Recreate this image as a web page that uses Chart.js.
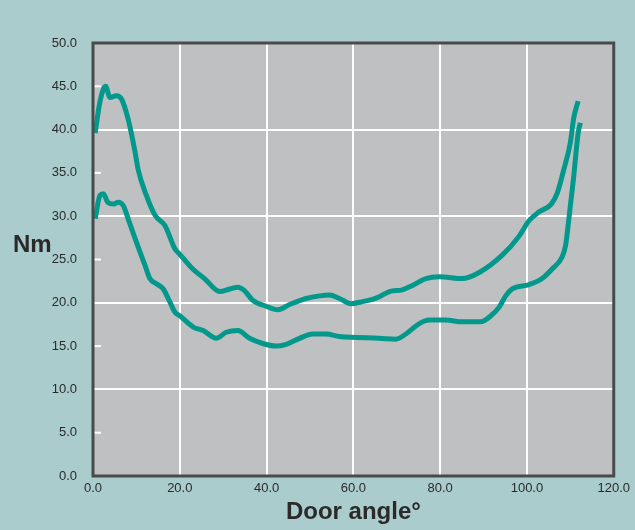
<!DOCTYPE html>
<html>
<head>
<meta charset="utf-8">
<script src="https://cdn.jsdelivr.net/npm/chart.js@4"></script>
<style>
  html, body { margin: 0; padding: 0; background: #aacccc; }
  canvas { display: block; }
</style>
</head>
<body>
<canvas id="myChart" width="635" height="530"></canvas>
<script>
// door angle (deg) vs torque (Nm)
var upperX = [0.5, 1.6, 2.9, 3.9, 5.4, 6.6, 8.1, 9.7, 10.4, 12.3, 14.3, 16.6, 18.9, 20, 23, 25.7, 29.2, 31.5, 33.4, 34.9, 36.8, 39.9, 42.6, 45.3, 49.1, 52.2, 54.5, 56.8, 59.5, 61.8, 64.4, 66, 68.3, 71.3, 73.6, 76.7, 79.8, 85.1, 89, 94.3, 98.2, 100.5, 102.8, 105.6, 107, 108.5, 110, 110.8, 111.8]
var upperY = [39.6, 43.2, 45.0, 43.7, 43.9, 43.5, 41.2, 37.4, 35.4, 32.4, 30.1, 28.9, 26.2, 25.6, 23.9, 22.8, 21.3, 21.6, 21.8, 21.4, 20.3, 19.6, 19.2, 19.8, 20.5, 20.8, 20.9, 20.5, 19.9, 20.1, 20.4, 20.7, 21.3, 21.5, 22.0, 22.8, 23.0, 22.8, 23.5, 25.5, 27.7, 29.5, 30.5, 31.4, 32.7, 35.4, 38.5, 41.4, 43.3]

var lowerX = [0.5, 1.6, 2.4, 3.4, 4.7, 5.8, 7.0, 8.1, 10, 12, 13.1, 14.6, 16.2, 17.7, 18.9, 20, 23.1, 25.4, 28.4, 30.7, 33.4, 36.1, 39.1, 42.2, 44.5, 47.6, 50.6, 53.7, 56.8, 60.6, 66, 69.8, 72.1, 75.2, 77.5, 81.3, 85.1, 89.3, 91.7, 93.6, 95.1, 96.6, 100.5, 103.5, 105.8, 108.1, 108.9, 109.3, 110, 110.8, 111.3, 111.8, 112.3]
var lowerY = [29.7, 32.4, 32.6, 31.6, 31.4, 31.6, 31.2, 29.7, 27.0, 24.3, 22.8, 22.2, 21.6, 20.1, 18.9, 18.5, 17.2, 16.8, 15.9, 16.6, 16.8, 15.9, 15.3, 15.0, 15.2, 15.9, 16.4, 16.4, 16.1, 16.0, 15.9, 15.8, 16.4, 17.6, 18.0, 18.0, 17.8, 17.8, 18.5, 19.5, 20.8, 21.6, 22.1, 22.8, 23.9, 25.3, 26.6, 28.1, 31.2, 34.7, 37.3, 39.6, 40.8]

var yMinorTicks = [5, 15, 25, 35, 45]

function toPoints(xs, ys) {
  var pts = []
  for (var i = 0; i < xs.length; i++) pts.push({x: xs[i], y: ys[i]})
  return pts
}

const plotBg = {
  id: 'plotBg',
  beforeDraw(chart) {
    const c = chart.ctx, a = chart.chartArea
    c.save()
    c.fillStyle = '#aacccc'
    c.fillRect(0, 0, chart.width, chart.height)
    c.fillStyle = '#bfc0c2'
    c.fillRect(a.left, a.top, a.right - a.left, a.bottom - a.top)
    c.restore()
  },
  beforeDatasetsDraw(chart) {
    // short white ticks inside the plot at the odd fives
    const c = chart.ctx, a = chart.chartArea, y = chart.scales.y
    c.save()
    c.strokeStyle = '#ffffff'
    c.lineWidth = 2
    yMinorTicks.forEach(v => {
      const py = y.getPixelForValue(v)
      c.beginPath()
      c.moveTo(a.left, py)
      c.lineTo(a.left + 8, py)
      c.stroke()
    })
    c.restore()
  },
  afterDraw(chart) {
    const c = chart.ctx, a = chart.chartArea
    c.save()
    c.strokeStyle = '#4a4a4a'
    c.lineWidth = 3
    c.strokeRect(a.left, a.top, a.right - a.left, a.bottom - a.top)
    c.fillStyle = '#2a2a2a'
    c.font = 'bold 24px "Liberation Sans", Arial, sans-serif'
    c.textAlign = 'left'
    c.textBaseline = 'alphabetic'
    c.fillText('Nm', 13, 252)
    c.restore()
  }
}

const ctx = document.getElementById('myChart')
const chart1 = new Chart(ctx, {
  type: 'scatter',
  data: {
    datasets: [{
      data: toPoints(upperX, upperY),
      borderColor: '#03988c',
      borderWidth: 5,
      showLine: true,
      pointRadius: 0,
      cubicInterpolationMode: 'monotone',
      fill: false
    }, {
      data: toPoints(lowerX, lowerY),
      borderColor: '#03988c',
      borderWidth: 5,
      showLine: true,
      pointRadius: 0,
      cubicInterpolationMode: 'monotone',
      fill: false
    }]
  },
  options: {
    responsive: false,
    animation: false,
    layout: {padding: {top: 43, right: 21, left: 0, bottom: 0}},
    plugins: {legend: {display: false}, tooltip: {enabled: false}},
    scales: {
      x: {
        type: 'linear',
        min: 0,
        max: 120,
        afterFit(s) { s.height = 54 },
        border: {display: false},
        grid: {
          drawTicks: false,
          lineWidth: 2,
          color: c => (c.tick && c.tick.value > 0 && c.tick.value < 120) ? '#ffffff' : 'rgba(0,0,0,0)'
        },
        ticks: {
          stepSize: 20,
          padding: 5,
          color: '#2a2a2a',
          font: {family: '"Liberation Sans", Arial, sans-serif', size: 13},
          callback: v => v.toFixed(1)
        },
        title: {
          display: true,
          text: 'Door angle°',
          color: '#2a2a2a',
          padding: {top: 0, bottom: 3},
          font: {family: '"Liberation Sans", Arial, sans-serif', size: 24, weight: 'bold'}
        }
      },
      y: {
        min: 0,
        max: 50,
        afterFit(s) { s.width = 93 },
        border: {display: false},
        grid: {
          drawTicks: false,
          lineWidth: 2,
          color: c => (c.tick && c.tick.value % 10 === 0 && c.tick.value > 0 && c.tick.value < 50) ? '#ffffff' : 'rgba(0,0,0,0)'
        },
        ticks: {
          stepSize: 5,
          padding: 16,
          color: '#2a2a2a',
          font: {family: '"Liberation Sans", Arial, sans-serif', size: 13},
          callback: v => v.toFixed(1)
        }
      }
    }
  },
  plugins: [plotBg]
})
</script>
</body>
</html>
